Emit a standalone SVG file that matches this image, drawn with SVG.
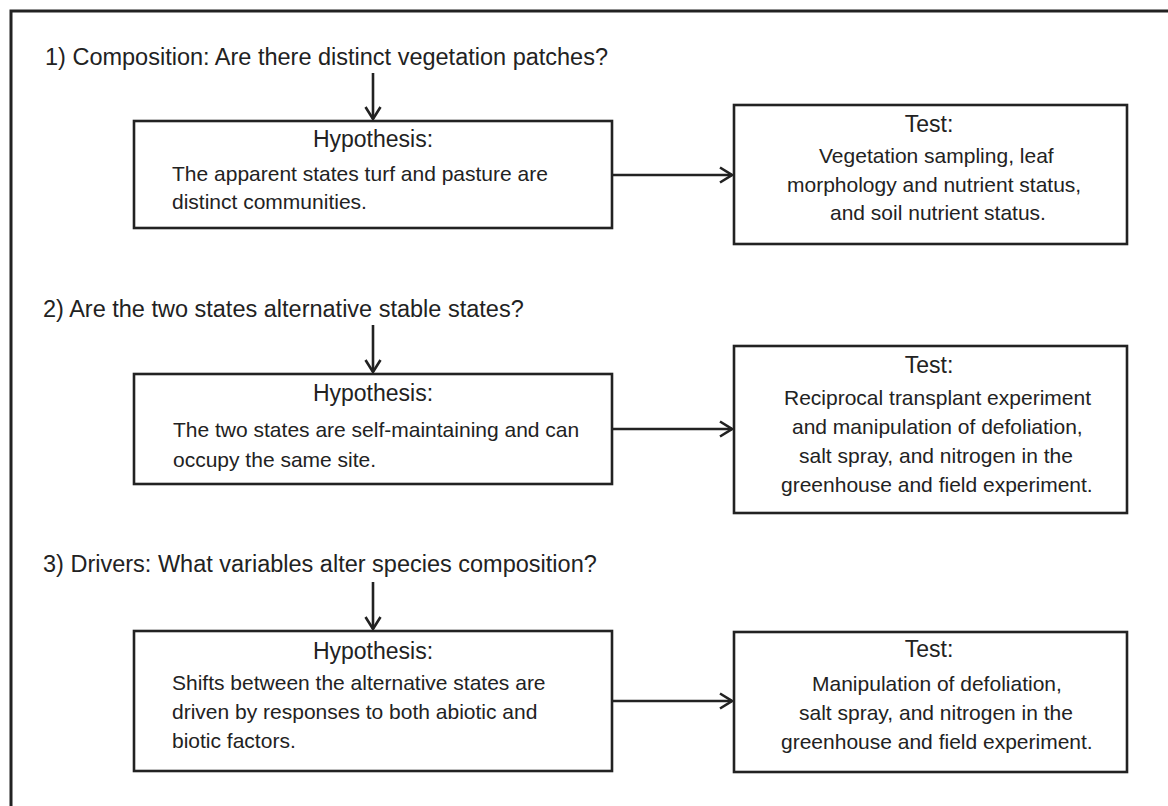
<svg xmlns="http://www.w3.org/2000/svg" width="1168" height="806" viewBox="0 0 1168 806">
<defs>
<style>
text{font-family:"Liberation Sans",Arial,sans-serif;fill:#222}
.title{font-size:23.5px}
.head{font-size:23px}
.body{font-size:21px}
.box{fill:#fff;stroke:#222;stroke-width:2.6}
.conn line{stroke:#222;stroke-width:2.6;fill:none}
</style>
<marker id="arr" viewBox="0 0 14 18" refX="13" refY="9" markerWidth="14" markerHeight="18" markerUnits="userSpaceOnUse" orient="auto">
<path d="M1,1.5 L13,9 L1,16.5" fill="none" stroke="#222" stroke-width="2.6" stroke-linejoin="miter"/>
</marker>
</defs>
<rect width="1168" height="806" fill="#fff"/>
<path d="M11,806 V11 H1168" fill="none" stroke="#222" stroke-width="3"/>

<g id="q1"><text class="title" x="45" y="65">1) Composition: Are there distinct vegetation patches?</text></g>
<g id="q2"><text class="title" x="43" y="317">2) Are the two states alternative stable states?</text></g>
<g id="q3"><text class="title" x="43" y="572">3) Drivers: What variables alter species composition?</text></g>

<g id="hyp1">
<rect class="box" x="134" y="121" width="478" height="107"/>
<text class="head" x="373" y="147" text-anchor="middle">Hypothesis:</text>
<text class="body" x="172" y="181">The apparent states turf and pasture are</text>
<text class="body" x="172" y="209">distinct communities.</text>
</g>
<g id="test1">
<rect class="box" x="734" y="105" width="393" height="139"/>
<text class="head" x="929" y="132" text-anchor="middle">Test:</text>
<text class="body" x="819" y="163">Vegetation sampling, leaf</text>
<text class="body" x="787" y="192">morphology and nutrient status,</text>
<text class="body" x="830" y="220">and soil nutrient status.</text>
</g>

<g id="hyp2">
<rect class="box" x="134" y="374" width="478" height="110"/>
<text class="head" x="373" y="401" text-anchor="middle">Hypothesis:</text>
<text class="body" x="173" y="437">The two states are self-maintaining and can</text>
<text class="body" x="173" y="467">occupy the same site.</text>
</g>
<g id="test2">
<rect class="box" x="734" y="346" width="393" height="167"/>
<text class="head" x="929" y="373" text-anchor="middle">Test:</text>
<text class="body" x="784" y="405">Reciprocal transplant experiment</text>
<text class="body" x="792" y="434">and manipulation of defoliation,</text>
<text class="body" x="799" y="463">salt spray, and nitrogen in the</text>
<text class="body" x="781" y="492">greenhouse and field experiment.</text>
</g>

<g id="hyp3">
<rect class="box" x="134" y="631" width="478" height="140"/>
<text class="head" x="373" y="659" text-anchor="middle">Hypothesis:</text>
<text class="body" x="172" y="690">Shifts between the alternative states are</text>
<text class="body" x="172" y="719">driven by responses to both abiotic and</text>
<text class="body" x="172" y="748">biotic factors.</text>
</g>
<g id="test3">
<rect class="box" x="734" y="632" width="393" height="140"/>
<text class="head" x="929" y="657" text-anchor="middle">Test:</text>
<text class="body" x="812" y="691">Manipulation of defoliation,</text>
<text class="body" x="799" y="720">salt spray, and nitrogen in the</text>
<text class="body" x="781" y="749">greenhouse and field experiment.</text>
</g>

<g id="connectors" class="conn">
<line x1="373" y1="73" x2="373" y2="119" marker-end="url(#arr)"/>
<line x1="612" y1="175" x2="732" y2="175" marker-end="url(#arr)"/>
<line x1="373" y1="325" x2="373" y2="372" marker-end="url(#arr)"/>
<line x1="612" y1="429" x2="732" y2="429" marker-end="url(#arr)"/>
<line x1="373" y1="582" x2="373" y2="629" marker-end="url(#arr)"/>
<line x1="612" y1="701" x2="732" y2="701" marker-end="url(#arr)"/>
</g>
</svg>
